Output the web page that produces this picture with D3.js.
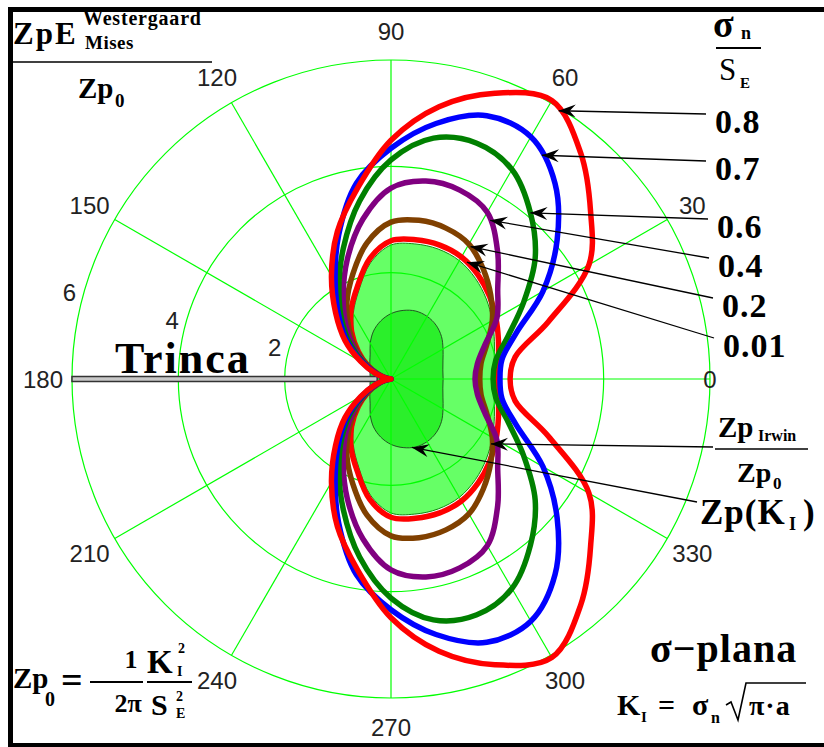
<!DOCTYPE html>
<html>
<head>
<meta charset="utf-8">
<script src="https://cdn.jsdelivr.net/npm/d3@7"></script>
<style>
  body { margin: 0; background: #fff; }
  svg { display: block; }
  .tick { font-family: "Liberation Sans", Arial, sans-serif; font-size: 24px; fill: #222; }
  .serif { font-family: "Liberation Serif", "Times New Roman", serif; font-weight: bold; fill: #000; }
</style>
</head>
<body>
<svg id="chart" width="824" height="747"></svg>
<script>
// polar angles (deg) at which the curves were read, upper half only;
// the lower half of every curve is the mirror image
const angles = [0, 10, 20, 30, 40, 50, 60, 70, 80, 90, 100, 110, 120, 130, 140, 150, 160, 170, 180];

// filled zones (in units of Zp0)
const irwinZone = [1.92, 1.97, 2.07, 2.2, 2.34, 2.47, 2.57, 2.6, 2.58, 2.52, 2.22, 1.77, 1.42, 1.08, 0.74, 0.45, 0.21, 0.06, 0];
const misesZone = [0.98, 0.99, 1.04, 1.13, 1.24, 1.32, 1.36, 1.36, 1.31, 1.23, 1.11, 0.96, 0.78, 0.61, 0.52, 0.46, 0.42, 0.40, 0.39];

// Westergaard / Mises curves, one per sigma_n / S_E
const zp001 = [2.0, 2.05, 2.15, 2.28, 2.42, 2.55, 2.65, 2.68, 2.66, 2.6, 2.3, 1.85, 1.5, 1.15, 0.8, 0.5, 0.25, 0.08, 0];
const zp02 = [1.67, 1.72, 1.92, 2.2, 2.45, 2.7, 2.93, 3.02, 3.03, 2.95, 2.6, 2.1, 1.66, 1.23, 0.85, 0.51, 0.25, 0.08, 0];
const zp04 = [1.58, 1.65, 1.88, 2.3, 2.62, 3.12, 3.62, 3.78, 3.78, 3.59, 3.05, 2.4, 1.8, 1.32, 0.91, 0.55, 0.27, 0.09, 0];
const zp06 = [1.92, 2.0, 2.34, 2.88, 3.54, 4.08, 4.55, 4.72, 4.6, 4.12, 3.4, 2.62, 1.96, 1.44, 0.99, 0.58, 0.29, 0.09, 0];
const zp07 = [2.05, 2.12, 2.5, 3.3, 4.08, 4.8, 5.26, 5.27, 4.88, 4.34, 3.74, 2.88, 2.1, 1.52, 1.06, 0.62, 0.3, 0.1, 0];
const zp08 = [2.24, 2.37, 3.15, 4.3, 4.9, 5.55, 6.05, 5.72, 5.2, 4.49, 3.64, 2.95, 2.24, 1.62, 1.13, 0.66, 0.32, 0.1, 0];

const seriesValues = [zp001, zp02, zp04, zp06, zp07, zp08];
const seriesLabels = ["0.01", "0.2", "0.4", "0.6", "0.7", "0.8"];
const seriesColors = ["#ff0000", "#804000", "#800080", "#008000", "#0000ff", "#ff0000"];
// angle on each curve where its legend arrow lands
const arrowAngles = [57, 59, 58, 50, 56, 58];

const angleTicks = [0, 30, 60, 90, 120, 150, 180, 210, 240, 270, 300, 330];
const ringTicks = [2, 4, 6];

const svg = d3.select("#chart");
const cx = 391, cy = 379;
const r = d3.scaleLinear().domain([0, 6]).range([0, 319]);
const toRad = d => d * Math.PI / 180;
const g = svg.append("g").attr("transform", `translate(${cx},${cy})`);

// frame
svg.append("rect")
    .attr("x", 10.5).attr("y", 9.5).attr("width", 840).attr("height", 736)
    .attr("fill", "none").attr("stroke", "#000").attr("stroke-width", 5);

// upper half + mirrored lower half -> closed outline
function fullCurve(vals) {
    const pts = angles.map((a, i) => [a, vals[i]]);
    for (let i = angles.length - 2; i > 0; i--) pts.push([360 - angles[i], vals[i]]);
    return pts;
}
const radial = d3.lineRadial()
    .angle(d => toRad(90 - d[0]))
    .radius(d => r(d[1]))
    .curve(d3.curveCatmullRomClosed.alpha(0.5));

const valueAt = (vals, a) => d3.scaleLinear().domain(angles).range(vals)(a);
const polar = (a, v) => [r(v) * Math.cos(toRad(a)), -r(v) * Math.sin(toRad(a))];

// zones
g.append("path").attr("d", radial(fullCurve(irwinZone)))
    .attr("fill", "#66ff66").attr("stroke", "#118811").attr("stroke-width", 1);
g.append("path").attr("d", radial(fullCurve(misesZone)))
    .attr("fill", "#2bef2b").attr("stroke", "#225522").attr("stroke-width", 1);

// grid
g.selectAll(".ring").data(ringTicks).join("circle")
    .attr("class", "ring")
    .attr("r", d => r(d))
    .attr("fill", "none").attr("stroke", "#00ff00").attr("stroke-width", 1.2);
g.selectAll(".spoke").data(angleTicks).join("line")
    .attr("class", "spoke")
    .attr("x1", 0).attr("y1", 0)
    .attr("x2", d => polar(d, 6)[0]).attr("y2", d => polar(d, 6)[1])
    .attr("stroke", "#00ff00").attr("stroke-width", 1.2);

// angle labels
g.selectAll(".tick-a").data(angleTicks).join("text")
    .attr("class", "tick")
    .attr("x", d => (d === 0 ? r(6) : r(6) + 29) * Math.cos(toRad(d)))
    .attr("y", d => -(d === 0 ? r(6) : r(6) + 29) * Math.sin(toRad(d)))
    .attr("text-anchor", "middle").attr("dominant-baseline", "central")
    .text(d => d);

// ring labels
g.selectAll(".tick-r").data(ringTicks).join("text")
    .attr("class", "tick")
    .attr("x", d => (r(d) + 14) * Math.cos(toRad(165)))
    .attr("y", d => -(r(d) + 14) * Math.sin(toRad(165)))
    .attr("text-anchor", "middle").attr("dominant-baseline", "central")
    .text(d => d);

// crack
g.append("rect")
    .attr("x", -r(6)).attr("y", -2.5)
    .attr("width", r(6) - r(0.26)).attr("height", 5)
    .attr("fill", "#c8c8c8").attr("stroke", "#333").attr("stroke-width", 1.5);

// curves
g.selectAll(".curve").data(seriesValues).join("path")
    .attr("class", "curve")
    .attr("d", d => radial(fullCurve(d)))
    .attr("fill", "none")
    .attr("stroke", (d, i) => seriesColors[i])
    .attr("stroke-width", 5.5);

// arrowhead
svg.append("defs").append("marker")
    .attr("id", "arr").attr("markerUnits", "userSpaceOnUse")
    .attr("viewBox", "-18 -8 20 16").attr("refX", 0).attr("refY", 0)
    .attr("markerWidth", 20).attr("markerHeight", 16).attr("orient", "auto")
    .append("path").attr("d", "M0,0 L-17,-6.5 L-11,0 L-17,6.5 Z").attr("fill", "#000");

// legend values with arrows
const labelPos = [[723, 357], [722, 317], [718, 277], [717, 238], [715, 180], [715, 133]];
seriesLabels.forEach((lab, i) => {
    const [lx, ly] = labelPos[i];
    svg.append("text").attr("class", "serif").attr("x", lx).attr("y", ly)
        .attr("font-size", 34).attr("letter-spacing", 1).text(lab);
    const [tx, ty] = polar(arrowAngles[i], valueAt(seriesValues[i], arrowAngles[i]));
    svg.append("line")
        .attr("x1", lx - 9).attr("y1", ly - 19)
        .attr("x2", cx + tx).attr("y2", cy + ty)
        .attr("stroke", "#000").attr("stroke-width", 1.3)
        .attr("marker-end", "url(#arr)");
});

// arrows for the filled zones (lower half, mirrored angles)
const irwinTip = polar(-33, valueAt(irwinZone, 33));
svg.append("line").attr("x1", 713).attr("y1", 447)
    .attr("x2", cx + irwinTip[0]).attr("y2", cy + irwinTip[1])
    .attr("stroke", "#000").attr("stroke-width", 1.3).attr("marker-end", "url(#arr)");
const misesTip = polar(-73, valueAt(misesZone, 73));
svg.append("line").attr("x1", 697).attr("y1", 502)
    .attr("x2", cx + misesTip[0]).attr("y2", cy + misesTip[1])
    .attr("stroke", "#000").attr("stroke-width", 1.3).attr("marker-end", "url(#arr)");

// text helper
function txt(x, y, size, s, opts = {}) {
    const t = svg.append("text").attr("class", "serif").attr("x", x).attr("y", y)
        .attr("font-size", size).text(s);
    if (opts.weight) t.style("font-weight", opts.weight);
    if (opts.ls) t.attr("letter-spacing", opts.ls);
    if (opts.anchor) t.attr("text-anchor", opts.anchor);
    return t;
}
function hline(x1, x2, y, w) {
    svg.append("line").attr("x1", x1).attr("x2", x2).attr("y1", y).attr("y2", y)
        .attr("stroke", "#000").attr("stroke-width", w || 1.5);
}

// crack label
txt(115, 373, 44, "Trinca", { ls: 2 });

// top-left: ZpE(Westergaard, Mises) / Zp0
txt(13, 44, 31, "ZpE", { ls: 2 });
txt(83, 25, 20, "Westergaard", { ls: 0.8 });
txt(85, 49, 19, "Mises", { ls: 0.5 });
hline(13, 212, 62, 1.5);
txt(78, 98, 29, "Zp");
txt(115, 107, 19, "0");

// top-right: sigma_n / S_E
txt(713, 37, 38, "σ");
txt(741, 39, 18, "n");
hline(716, 761, 48, 2);
txt(719, 80, 31, "S", { weight: "normal" });
txt(740, 88, 15, "E");

// right: Zp_Irwin / Zp0  and  Zp(K_I)
txt(718, 437, 29, "Zp");
txt(758, 441, 16, "Irwin");
hline(715, 808, 449, 1.5);
txt(737, 482, 28, "Zp");
txt(773, 489, 17, "0");
txt(700, 524, 35, "Zp(K", { ls: 1 });
txt(789, 530, 18, "I");
txt(803, 524, 35, ")");

// bottom-left: Zp0 = 1/(2 pi) * K_I^2 / S_E^2
txt(13, 688, 29, "Zp");
txt(45, 706, 20, "0");
txt(61, 693, 38, "=");
hline(90, 143, 682, 2);
txt(131, 668, 26, "1", { anchor: "middle" });
txt(128, 712, 26, "2π", { anchor: "middle" });
hline(147, 192, 682, 2);
txt(147, 673, 33, "K");
txt(178, 653, 14, "2");
txt(177, 676, 14, "I");
txt(151, 715, 30, "S");
txt(176, 701, 14, "2");
txt(176, 718, 14, "E");

// bottom-right: sigma-plana, K_I = sigma_n sqrt(pi a)
txt(650, 662, 40, "σ−plana", { ls: 1 });
txt(617, 715, 30, "K");
txt(641, 722, 15, "I");
txt(658, 715, 30, "=");
txt(692, 715, 30, "σ");
txt(711, 723, 16, "n");
svg.append("path").attr("d", "M726,705 L731,702 L738,720 L746,683 L806,683")
    .attr("fill", "none").attr("stroke", "#000").attr("stroke-width", 1.6);
txt(749, 715, 28, "π·a", { ls: 1 });
</script>
</body>
</html>
